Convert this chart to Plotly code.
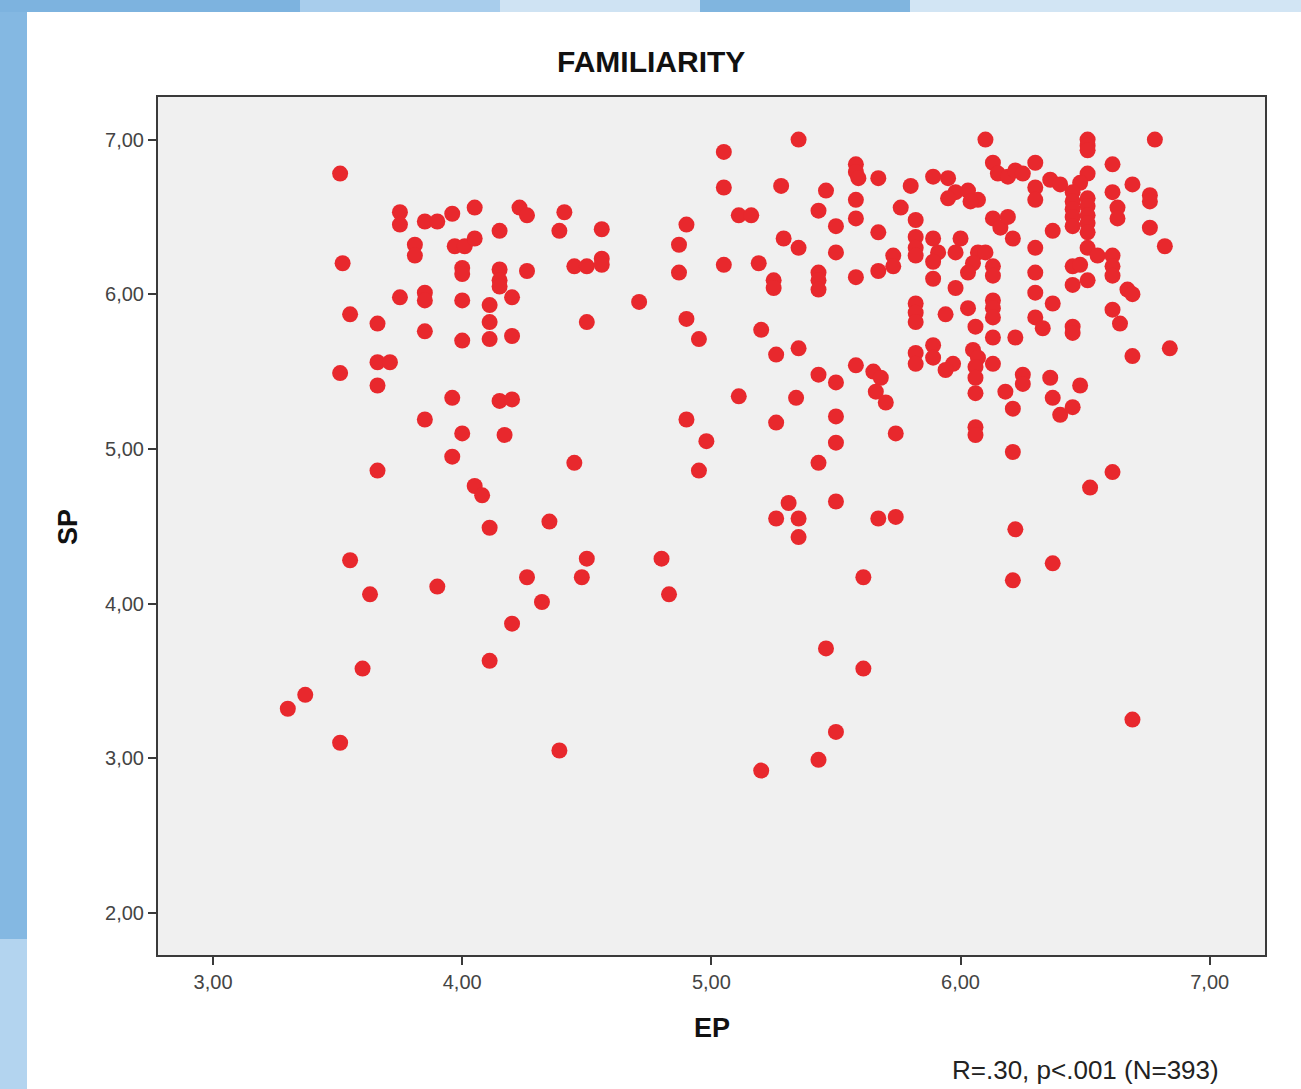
import plotly.graph_objects as go

# EP (x) and SP (y) values
EP = [
    3.30, 3.37, 3.51, 3.52, 3.51, 3.55, 3.51, 3.55, 3.63, 3.60,
    3.66, 3.66, 3.71, 3.66, 3.66, 3.75, 3.75, 3.75, 3.81, 3.81,
    3.85, 3.85, 3.85, 3.85, 3.90, 3.85, 3.90, 3.96, 3.96, 3.96,
    3.97, 4.01, 4.00, 4.00, 4.00, 4.00, 4.00, 4.05, 4.05, 4.05,
    4.08, 4.11, 4.11, 4.11, 4.11, 4.11, 4.15, 4.15, 4.15, 4.15,
    4.15, 4.20, 4.17, 4.20, 4.20, 4.20, 4.23, 4.26, 4.26, 4.26,
    4.32, 4.35, 4.39, 4.41, 4.39, 4.45, 4.45, 4.50, 4.48, 4.50,
    4.50, 4.56, 4.56, 4.56,
    5.35, 5.05, 5.05, 5.28, 5.58, 5.58, 5.59, 5.67, 5.80, 5.46,
    5.11, 5.16, 5.43, 5.58, 5.76, 5.82, 5.58, 5.50, 5.67, 4.90,
    4.87, 4.87, 5.05, 5.29, 5.35, 5.19, 5.25, 5.25, 5.43, 5.43,
    5.43, 5.50, 5.58, 5.67, 5.73, 5.73, 5.82, 5.82, 5.82, 4.71,
    4.90, 4.95, 5.20, 5.35, 5.26, 5.82, 5.82, 5.82, 5.82, 5.82,
    5.58, 5.65, 5.68, 5.43, 5.50, 5.66, 5.70, 5.11, 5.34, 4.90,
    5.26, 5.50, 5.74, 4.98, 5.50, 4.95, 5.43, 5.50, 5.31, 5.26,
    5.35, 5.35, 5.67, 5.74, 4.80, 4.83, 5.61, 5.46, 5.61, 5.50,
    5.43, 5.20,
    6.10, 6.51, 6.51, 6.51, 6.78, 6.13, 6.15, 6.19, 6.22, 6.25,
    6.30, 6.61, 6.51, 6.36, 6.40, 6.48, 6.69, 5.89, 5.95, 5.98,
    6.03, 6.07, 5.95, 6.04, 6.30, 6.30, 6.45, 6.45, 6.45, 6.45,
    6.45, 6.51, 6.51, 6.51, 6.51, 6.51, 6.61, 6.63, 6.63, 6.76,
    6.76, 6.76, 6.82, 6.13, 6.16, 6.19, 6.37, 6.21, 5.89, 5.91,
    5.89, 6.00, 5.98, 6.07, 6.10, 6.05, 6.03, 6.13, 6.13, 6.30,
    6.30, 6.51, 6.55, 6.61, 6.61, 6.61, 6.45, 6.48, 6.45, 6.51,
    5.89, 5.98, 6.30, 6.37, 6.67, 6.69, 5.94, 6.03, 6.13, 6.13,
    6.13, 6.06, 6.30, 6.33, 6.45, 6.45, 6.61, 6.64, 6.13, 6.22,
    5.89, 5.89, 5.97, 5.94, 6.05, 6.07, 6.06, 6.06, 6.13, 6.25,
    6.25, 6.36, 6.48, 6.69, 6.84, 6.06, 6.18, 6.37, 6.21, 6.40,
    6.45, 6.06, 6.06, 6.21, 6.61, 6.52, 6.22, 6.37, 6.21, 6.69,
]
SP = [
    3.32, 3.41, 6.78, 6.20, 5.49, 5.87, 3.10, 4.28, 4.06, 3.58,
    5.81, 5.56, 5.56, 5.41, 4.86, 6.53, 6.45, 5.98, 6.32, 6.25,
    6.01, 5.96, 5.76, 6.47, 6.47, 5.19, 4.11, 6.52, 5.33, 4.95,
    6.31, 6.31, 6.17, 6.13, 5.96, 5.70, 5.10, 6.56, 6.36, 4.76,
    4.70, 5.93, 5.82, 5.71, 4.49, 3.63, 6.41, 6.16, 6.09, 6.05,
    5.31, 5.32, 5.09, 5.98, 5.73, 3.87, 6.56, 6.51, 6.15, 4.17,
    4.01, 4.53, 6.41, 6.53, 3.05, 4.91, 6.18, 6.18, 4.17, 4.29,
    5.82, 6.42, 6.23, 6.19,
    7.00, 6.92, 6.69, 6.70, 6.84, 6.79, 6.75, 6.75, 6.70, 6.67,
    6.51, 6.51, 6.54, 6.61, 6.56, 6.48, 6.49, 6.44, 6.40, 6.45,
    6.32, 6.14, 6.19, 6.36, 6.30, 6.20, 6.09, 6.04, 6.14, 6.09,
    6.03, 6.27, 6.11, 6.15, 6.25, 6.18, 6.37, 6.30, 6.25, 5.95,
    5.84, 5.71, 5.77, 5.65, 5.61, 5.94, 5.88, 5.82, 5.62, 5.55,
    5.54, 5.50, 5.46, 5.48, 5.43, 5.37, 5.30, 5.34, 5.33, 5.19,
    5.17, 5.21, 5.10, 5.05, 5.04, 4.86, 4.91, 4.66, 4.65, 4.55,
    4.55, 4.43, 4.55, 4.56, 4.29, 4.06, 4.17, 3.71, 3.58, 3.17,
    2.99, 2.92,
    7.00, 7.00, 6.96, 6.93, 7.00, 6.85, 6.78, 6.76, 6.80, 6.78,
    6.85, 6.84, 6.78, 6.74, 6.71, 6.72, 6.71, 6.76, 6.75, 6.66,
    6.67, 6.61, 6.62, 6.60, 6.69, 6.61, 6.66, 6.60, 6.55, 6.50,
    6.44, 6.62, 6.57, 6.51, 6.46, 6.40, 6.66, 6.56, 6.49, 6.64,
    6.60, 6.43, 6.31, 6.49, 6.43, 6.50, 6.41, 6.36, 6.36, 6.27,
    6.21, 6.36, 6.27, 6.27, 6.27, 6.20, 6.14, 6.18, 6.12, 6.30,
    6.14, 6.30, 6.25, 6.25, 6.18, 6.12, 6.18, 6.19, 6.06, 6.09,
    6.10, 6.04, 6.01, 5.94, 6.03, 6.00, 5.87, 5.91, 5.96, 5.91,
    5.85, 5.79, 5.85, 5.78, 5.79, 5.75, 5.90, 5.81, 5.72, 5.72,
    5.67, 5.59, 5.55, 5.51, 5.64, 5.59, 5.53, 5.46, 5.55, 5.48,
    5.42, 5.46, 5.41, 5.60, 5.65, 5.36, 5.37, 5.33, 5.26, 5.22,
    5.27, 5.14, 5.09, 4.98, 4.85, 4.75, 4.48, 4.26, 4.15, 3.25,
]

X_TICKS = [3, 4, 5, 6, 7]
X_LABELS = ["3,00", "4,00", "5,00", "6,00", "7,00"]
Y_TICKS = [2, 3, 4, 5, 6, 7]
Y_LABELS = ["2,00", "3,00", "4,00", "5,00", "6,00", "7,00"]

W, H = 1301, 1089
FONT = "Liberation Sans, Arial, sans-serif"

fig = go.Figure()
fig.add_trace(go.Scatter(
    x=EP, y=SP, mode="markers",
    marker=dict(size=16, color="#e8282d", line=dict(width=0)),
    showlegend=False, hoverinfo="x+y",
))

axis_common = dict(
    showgrid=False, zeroline=False, showline=True, mirror=True,
    linecolor="#3a3a3a", linewidth=2,
    ticks="outside", ticklen=8, tickwidth=2, tickcolor="#3a3a3a",
    tickfont=dict(family=FONT, size=20, color="#444444"),
)

fig.update_layout(
    width=W, height=H, autosize=False,
    margin=dict(l=0, r=0, t=0, b=0, pad=0),
    paper_bgcolor="white", plot_bgcolor="#f0f0f0",
    xaxis=dict(range=[2.779, 7.222], domain=[158 / W, 1265 / W],
               tickvals=X_TICKS, ticktext=X_LABELS, **axis_common),
    yaxis=dict(range=[1.728, 7.275], domain=[(H - 955) / H, (H - 97) / H],
               tickvals=Y_TICKS, ticktext=Y_LABELS, **axis_common),
    shapes=[
        dict(type="rect", xref="paper", yref="paper", x0=0, x1=27 / W, y0=0, y1=1,
             fillcolor="#84b8e2", line=dict(width=0), layer="below"),
        dict(type="rect", xref="paper", yref="paper", x0=0, x1=27 / W, y0=0, y1=150 / H,
             fillcolor="#b3d4ef", line=dict(width=0), layer="below"),
        dict(type="rect", xref="paper", yref="paper", x0=0, x1=300 / W, y0=1 - 12 / H, y1=1,
             fillcolor="#7db3df", line=dict(width=0), layer="below"),
        dict(type="rect", xref="paper", yref="paper", x0=300 / W, x1=500 / W, y0=1 - 12 / H, y1=1,
             fillcolor="#a8cdec", line=dict(width=0), layer="below"),
        dict(type="rect", xref="paper", yref="paper", x0=500 / W, x1=700 / W, y0=1 - 12 / H, y1=1,
             fillcolor="#cfe3f3", line=dict(width=0), layer="below"),
        dict(type="rect", xref="paper", yref="paper", x0=700 / W, x1=910 / W, y0=1 - 12 / H, y1=1,
             fillcolor="#80b5df", line=dict(width=0), layer="below"),
        dict(type="rect", xref="paper", yref="paper", x0=910 / W, x1=1, y0=1 - 12 / H, y1=1,
             fillcolor="#d2e5f4", line=dict(width=0), layer="below"),
    ],
    annotations=[
        dict(text="<b>FAMILIARITY</b>", xref="paper", yref="paper",
             x=651 / W, y=1 - 62 / H, xanchor="center", yanchor="middle",
             showarrow=False, font=dict(family=FONT, size=30, color="#111111")),
        dict(text="<b>EP</b>", xref="paper", yref="paper",
             x=712 / W, y=1 - 1028 / H, xanchor="center", yanchor="middle",
             showarrow=False, font=dict(family=FONT, size=27, color="#111111")),
        dict(text="<b>SP</b>", xref="paper", yref="paper",
             x=68 / W, y=1 - 527 / H, xanchor="center", yanchor="middle",
             textangle=-90, showarrow=False,
             font=dict(family=FONT, size=27, color="#111111")),
        dict(text="R=.30, p<.001 (N=393)", xref="paper", yref="paper",
             x=950 / W, y=2 / H, xanchor="left", yanchor="bottom",
             showarrow=False, font=dict(family=FONT, size=26, color="#222222")),
    ],
)

fig.write_html("out.html")
